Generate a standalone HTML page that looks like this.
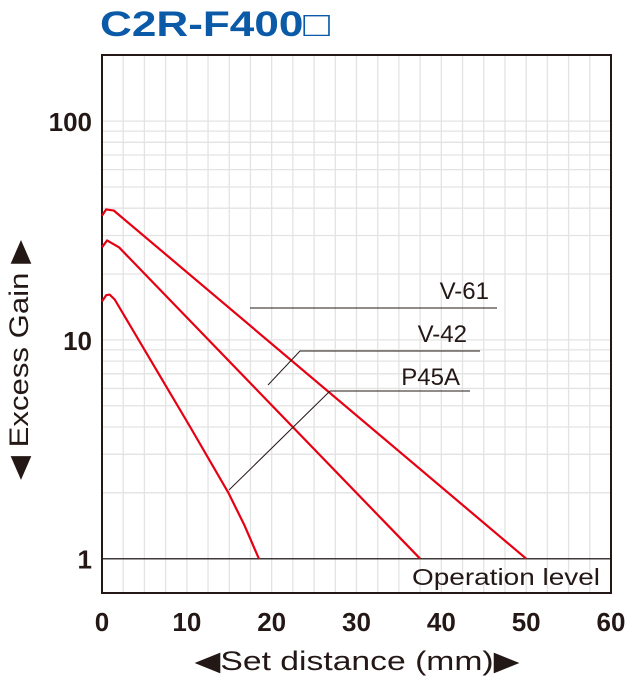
<!DOCTYPE html>
<html><head><meta charset="utf-8"><style>
body{margin:0;background:#fff;}
svg text{font-family:"Liberation Sans",sans-serif;}
</style></head><body>
<svg width="640" height="680" id="chart">
<text x="100" y="36" fill="#0a5aa8" font-size="35" font-weight="bold" textLength="230" lengthAdjust="spacingAndGlyphs">C2R-F400□</text>
<g id="grid"></g>
<g id="series"></g>
<g id="ticks"></g>
<text transform="translate(28,360) rotate(-90)" text-anchor="middle" font-size="27" fill="#231815" textLength="240" lengthAdjust="spacingAndGlyphs">◀ Excess Gain ▶</text>
<text x="357" y="670" text-anchor="middle" font-size="27" fill="#231815" textLength="325" lengthAdjust="spacingAndGlyphs">◀Set distance (mm)▶</text>
</svg>
<script>
const xTicks=[0,10,20,30,40,50,60];
const yTicks=[1,10,100];
const yTickLabels=["1","10","100"];
const v61X=[0,0.5,1.4,50];
const v61Y=[37,39.5,39,1];
const v42X=[0,0.6,2,37.5];
const v42Y=[26.5,28.5,26.5,1];
const p45X=[0,0.5,0.9,1.5,10.4,14.9,16.8,18.5];
const p45Y=[15,16,16.1,15.3,4.0,2.0,1.42,1];
const seriesNames=["V-61","V-42","P45A"];
const L=102,R=611,T=55,B=593;
const sx=v=>L+(R-L)*v/60;
const sy=v=>558.7-218.8*Math.log10(v);
const NS="http://www.w3.org/2000/svg";
function mk(tag,attrs,parent){const e=document.createElementNS(NS,tag);for(const k in attrs)e.setAttribute(k,attrs[k]);parent.appendChild(e);return e;}
const grid=document.getElementById('grid');
for(let m=2.5;m<60;m+=2.5){const l=mk('line',{x1:sx(m),x2:sx(m),y1:T,y2:B,stroke:'#e3e3e3','stroke-width':1.3},grid);

}
[2,3,4,5,6,7,8,9,10,20,30,40,50,60,70,80,90,100].forEach(v=>{const l=mk('line',{x1:L,x2:R,y1:sy(v),y2:sy(v),stroke:'#e3e3e3','stroke-width':1.3},grid);

});
const ol=mk('line',{x1:L,x2:R,y1:sy(1),y2:sy(1),stroke:'#3e3a39','stroke-width':1.5},grid);


const frame=mk('rect',{x:L,y:T,width:R-L,height:B-T,fill:'none',stroke:'#231815','stroke-width':2},grid);


const ot=mk('text',{x:412,y:585,'font-size':23,fill:'#231815',textLength:188,lengthAdjust:'spacingAndGlyphs'},grid);ot.textContent='Operation level';


const ser=document.getElementById('series');
function path(xs,ys){let d='';xs.forEach((x,i)=>{d+=(i?'L':'M')+sx(x).toFixed(1)+' '+sy(ys[i]).toFixed(1);});return d;}
[[v61X,v61Y],[v42X,v42Y],[p45X,p45Y]].forEach((s,i)=>{const p=mk('path',{d:path(s[0],s[1]),fill:'none',stroke:'#e60012','stroke-width':2.2,'stroke-linejoin':'round'},ser);

});
const leaders=[[[250,308],[497,308]],[[268,385],[300,351],[480,351]],[[229,490],[330,391],[470,391]]];
const lblPos=[[489,299],[467,342],[460,385]];
leaders.forEach((pts,i)=>{const pl=mk('polyline',{points:pts.map(p=>p.join(',')).join(' '),fill:'none',stroke:'#231815','stroke-width':1},ser);


const t=mk('text',{x:lblPos[i][0],y:lblPos[i][1],'text-anchor':'end','font-size':24,fill:'#231815'},ser);t.textContent=seriesNames[i];

});
const tk=document.getElementById('ticks');
xTicks.forEach(v=>{const t=mk('text',{x:sx(v),y:631,'text-anchor':'middle','font-size':26,'font-weight':'bold',fill:'#231815'},tk);t.textContent=String(v);

});
yTicks.forEach((v,i)=>{const t=mk('text',{x:92,y:sy(v)+10,'text-anchor':'end','font-size':26,'font-weight':'bold',fill:'#231815'},tk);t.textContent=yTickLabels[i];

});
</script>
</body></html>
